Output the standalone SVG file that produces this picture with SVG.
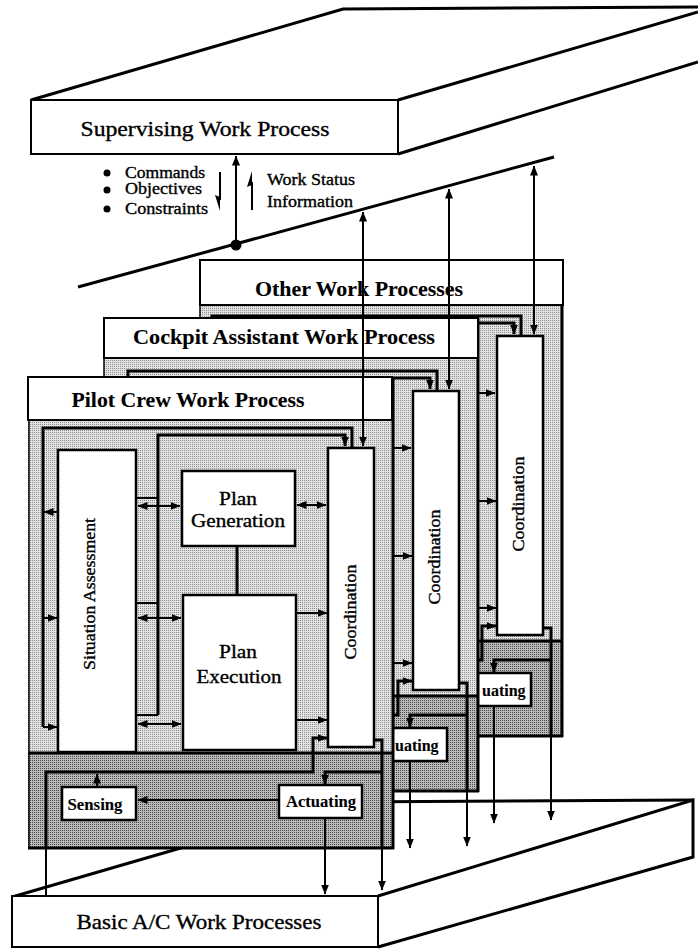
<svg xmlns="http://www.w3.org/2000/svg" xmlns:xlink="http://www.w3.org/1999/xlink" width="698" height="950" viewBox="0 0 698 950">
<style>
.ln{fill:none;stroke:#000;stroke-width:2}
.ln3{fill:none;stroke:#000;stroke-width:3}
.thin{fill:none;stroke:#000;stroke-width:1.5}
.box{fill:#fff;stroke:#000;stroke-width:2.5}
.hdr{fill:#fff;stroke:#000;stroke-width:2}
.t{font-family:"Liberation Serif","Times New Roman",serif;fill:#000;stroke:#000;stroke-width:0.35}
.b{font-weight:bold;stroke-width:0.1}
</style>
<defs>
<pattern id="lt" width="2" height="2" patternUnits="userSpaceOnUse"><rect width="2" height="2" fill="#e2e2e2"/><rect width="1" height="1" fill="#8e8e8e"/></pattern>
<pattern id="dk" width="2" height="2" patternUnits="userSpaceOnUse"><rect width="2" height="2" fill="#bababa"/><rect width="1" height="1" fill="#4a4a4a"/></pattern>
<marker id="ah" viewBox="0 0 10 8" refX="9.5" refY="4" markerWidth="10" markerHeight="8" markerUnits="userSpaceOnUse" orient="auto-start-reverse"><path d="M0,0 L10,4 L0,8 z" fill="#000"/></marker>
<g id="inner">
<polyline class="ln3" points="43,727 43,428 352,428 352,447"/>
<line class="ln" x1="57" y1="512" x2="44" y2="512" marker-end="url(#ah)"/>
<line class="ln" x1="43" y1="618" x2="57" y2="618" marker-end="url(#ah)"/>
<line class="ln" x1="43" y1="727" x2="57" y2="727" marker-end="url(#ah)"/>
<polyline class="ln3" points="158,715 158,435 345,435 345,446" marker-end="url(#ah)"/>
<line class="ln" x1="136" y1="498" x2="158" y2="498"/>
<line class="ln" x1="136" y1="603" x2="158" y2="603"/>
<line class="ln" x1="136" y1="715" x2="158" y2="715"/>
<rect class="box" x="58" y="450" width="78" height="302"/>
<rect class="box" x="182" y="471" width="113" height="75"/>
<line class="ln3" x1="237" y1="546" x2="237" y2="595"/>
<rect class="box" x="183" y="595" width="113" height="155"/>
<rect class="box" x="328" y="448" width="46" height="299"/>
<line class="ln" x1="138" y1="506" x2="180" y2="506" marker-start="url(#ah)" marker-end="url(#ah)"/>
<line class="ln" x1="138" y1="618" x2="181" y2="618" marker-start="url(#ah)" marker-end="url(#ah)"/>
<line class="ln" x1="138" y1="724" x2="181" y2="724" marker-start="url(#ah)" marker-end="url(#ah)"/>
<line class="ln" x1="297" y1="505" x2="326" y2="505" marker-start="url(#ah)" marker-end="url(#ah)"/>
<line class="ln" x1="297" y1="613" x2="327" y2="613" marker-end="url(#ah)"/>
<line class="ln" x1="297" y1="720" x2="327" y2="720" marker-end="url(#ah)"/>
<polyline class="ln3" points="46,848 46,772 313,772 313,738 327,738" marker-end="url(#ah)"/>
<line class="ln" x1="97" y1="787" x2="97" y2="774" marker-end="url(#ah)"/>
<polyline class="ln3" points="374,740 382,740 382,848"/>
<polyline class="ln3" points="382,772 325,772 325,784" marker-end="url(#ah)"/>
<rect class="box" x="62" y="787" width="74" height="33"/>
<rect class="box" x="279" y="785" width="83" height="33"/>
<line class="ln" x1="279" y1="800" x2="138" y2="800" marker-end="url(#ah)"/>
<line class="ln" x1="325" y1="818" x2="325" y2="848"/>
</g>
</defs>
<rect width="698" height="950" fill="#fff"/>

<g id="supervising">
<polyline class="ln3" points="31,100 343,9 698,7"/>
<line class="ln3" x1="398" y1="100" x2="698" y2="12"/>
<line class="ln3" x1="398" y1="154" x2="698" y2="62"/>
<rect class="hdr" x="31" y="100" width="367" height="54" stroke-width="2.5"/>
<text class="t" x="205" y="136" font-size="21" text-anchor="middle" textLength="249" lengthAdjust="spacingAndGlyphs">Supervising Work Process</text>
</g>

<g id="bus">
<line class="ln3" x1="78" y1="287" x2="554" y2="157"/>
</g>

<g id="basic">
<polyline class="ln3" points="12,897 339,802 693,800"/>
<polyline class="ln3" points="378,896 693,800 693,857 378,947"/>
<rect class="hdr" x="12" y="896" width="366" height="51"/>
<text class="t" x="199" y="929" font-size="21" text-anchor="middle" textLength="245" lengthAdjust="spacingAndGlyphs">Basic A/C Work Processes</text>
</g>

<g id="other">
<rect x="200" y="300" width="362" height="341" fill="url(#lt)"/>
<rect x="200" y="641" width="362" height="95" fill="url(#dk)"/>
<line class="ln3" x1="200" y1="641" x2="562" y2="641"/>
<use xlink:href="#inner" href="#inner" transform="translate(169,-112)"/>
<line class="thin" x1="200" y1="260" x2="200" y2="736"/>
<line class="ln3" x1="562" y1="260" x2="562" y2="737"/>
<line class="ln3" x1="200" y1="736" x2="563" y2="736"/>
<rect class="hdr" x="200" y="260" width="363" height="45"/>
<text class="t b" x="359" y="296" font-size="21" text-anchor="middle" textLength="208" lengthAdjust="spacingAndGlyphs">Other Work Processes</text>
<text class="t" transform="translate(524,504) rotate(-90)" font-size="17" text-anchor="middle" textLength="95" lengthAdjust="spacingAndGlyphs">Coordination</text>
<text class="t b" x="482" y="696" font-size="16">uating</text>
</g>

<g id="cockpit">
<rect x="104" y="356" width="374" height="340" fill="url(#lt)"/>
<rect x="104" y="696" width="374" height="95" fill="url(#dk)"/>
<line class="ln3" x1="104" y1="696" x2="478" y2="696"/>
<use xlink:href="#inner" href="#inner" transform="translate(85,-57)"/>
<line class="thin" x1="104" y1="318" x2="104" y2="791"/>
<line class="ln3" x1="478" y1="318" x2="478" y2="792"/>
<line class="ln3" x1="104" y1="791" x2="479" y2="791"/>
<rect class="hdr" x="104" y="318" width="374" height="40"/>
<text class="t b" x="284" y="344" font-size="21" text-anchor="middle" textLength="302" lengthAdjust="spacingAndGlyphs">Cockpit Assistant Work Process</text>
<text class="t" transform="translate(440,557) rotate(-90)" font-size="17" text-anchor="middle" textLength="95" lengthAdjust="spacingAndGlyphs">Coordination</text>
<text class="t b" x="395" y="751" font-size="16">uating</text>
</g>

<g id="pilot">
<rect x="28" y="415" width="365" height="338" fill="url(#lt)"/>
<rect x="28" y="753" width="365" height="95" fill="url(#dk)"/>
<line class="ln3" x1="28" y1="753" x2="393" y2="753"/>
<use xlink:href="#inner" href="#inner"/>
<line class="thin" x1="29" y1="377" x2="29" y2="848"/>
<line class="ln3" x1="393" y1="377" x2="393" y2="849"/>
<line class="ln3" x1="28" y1="848" x2="394" y2="848"/>
<rect class="hdr" x="28" y="377" width="364" height="43"/>
<text class="t b" x="188" y="407" font-size="21" text-anchor="middle" textLength="233" lengthAdjust="spacingAndGlyphs">Pilot Crew Work Process</text>
<text class="t" transform="translate(95,594) rotate(-90)" font-size="16" text-anchor="middle" textLength="152" lengthAdjust="spacingAndGlyphs">Situation Assessment</text>
<text class="t" x="238" y="505" font-size="19" text-anchor="middle" textLength="38" lengthAdjust="spacingAndGlyphs">Plan</text>
<text class="t" x="238" y="527" font-size="19" text-anchor="middle" textLength="94" lengthAdjust="spacingAndGlyphs">Generation</text>
<text class="t" x="238" y="658" font-size="19" text-anchor="middle" textLength="38" lengthAdjust="spacingAndGlyphs">Plan</text>
<text class="t" x="239" y="683" font-size="19" text-anchor="middle" textLength="85" lengthAdjust="spacingAndGlyphs">Execution</text>
<text class="t" transform="translate(356,612) rotate(-90)" font-size="17" text-anchor="middle" textLength="95" lengthAdjust="spacingAndGlyphs">Coordination</text>
<text class="t b" x="95" y="810" font-size="16" text-anchor="middle" textLength="55" lengthAdjust="spacingAndGlyphs">Sensing</text>
<text class="t b" x="321" y="807" font-size="16" text-anchor="middle" textLength="70" lengthAdjust="spacingAndGlyphs">Actuating</text>
</g>

<g id="labels">
<circle cx="107" cy="173" r="3.5"/>
<circle cx="107" cy="190" r="3.5"/>
<circle cx="107" cy="209" r="3.5"/>
<text class="t" x="125" y="178" font-size="16" textLength="80" lengthAdjust="spacingAndGlyphs">Commands</text>
<text class="t" x="125" y="194" font-size="16" textLength="77" lengthAdjust="spacingAndGlyphs">Objectives</text>
<text class="t" x="125" y="214" font-size="16" textLength="83" lengthAdjust="spacingAndGlyphs">Constraints</text>
<text class="t" x="267" y="185" font-size="16" textLength="88" lengthAdjust="spacingAndGlyphs">Work Status</text>
<text class="t" x="267" y="207" font-size="16" textLength="86" lengthAdjust="spacingAndGlyphs">Information</text>
</g>

<g id="connectors">
<line class="ln" x1="236" y1="245" x2="236" y2="156" marker-end="url(#ah)"/>
<circle cx="236" cy="245" r="5.5"/>
<line class="ln" x1="220" y1="172" x2="220" y2="200"/>
<polygon points="220,211 215,195 220,197"/>
<line class="ln" x1="252" y1="210" x2="252" y2="182"/>
<polygon points="252,171 247,187 252,185"/>
<line class="ln" x1="363" y1="212" x2="363" y2="446" marker-start="url(#ah)" marker-end="url(#ah)"/>
<line class="ln" x1="449" y1="189" x2="449" y2="389" marker-start="url(#ah)" marker-end="url(#ah)"/>
<line class="ln" x1="534" y1="166" x2="534" y2="334" marker-start="url(#ah)" marker-end="url(#ah)"/>
<line class="ln" x1="46" y1="848" x2="46" y2="897"/>
<line class="ln" x1="325" y1="848" x2="325" y2="894" marker-end="url(#ah)"/>
<line class="ln" x1="382" y1="848" x2="382" y2="890" marker-end="url(#ah)"/>
<line class="ln" x1="410" y1="791" x2="410" y2="848" marker-end="url(#ah)"/>
<line class="ln" x1="467" y1="791" x2="467" y2="846" marker-end="url(#ah)"/>
<line class="ln" x1="494" y1="736" x2="494" y2="823" marker-end="url(#ah)"/>
<line class="ln" x1="551" y1="736" x2="551" y2="820" marker-end="url(#ah)"/>
</g>
</svg>
